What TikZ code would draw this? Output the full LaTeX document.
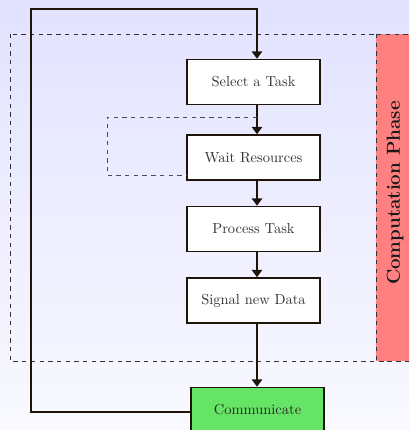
\documentclass[tikz,border=0pt]{standalone}
\usetikzlibrary{arrows.meta}
\definecolor{bgtop}{RGB}{226,226,255}
\definecolor{bgbottom}{RGB}{249,249,255}
\definecolor{flowline}{RGB}{30,20,10}
\definecolor{phasered}{RGB}{255,128,128}
\definecolor{commgreen}{RGB}{102,228,102}
\begin{document}
\begin{tikzpicture}[x=0.69pt,y=-0.69pt,
  taskbox/.style={draw=flowline, line width=1.1pt, fill=white,
    minimum width=92pt, minimum height=31pt, inner sep=0pt, text=black!80},
  flow/.style={draw=flowline, line width=1.3pt, -{Triangle[length=5pt,width=7pt]}},
  phase/.style={draw=black!80, dashed, line width=0.6pt},
  waitloop/.style={draw=black!70, dashed, line width=0.6pt}]
  % canvas
  \useasboundingbox (0,0) rectangle (409,430);
  \clip (0,0) rectangle (409,430);
  \shade[top color=bgtop, bottom color=bgbottom] (0,0) rectangle (409,430);

  % computation phase frame and its side band
  \draw[phase] (10,34) rectangle (430,361);
  \filldraw[phase, fill=phasered] (376,34) rectangle (430,361);
  \node[rotate=90, font=\fontsize{13}{15}\selectfont\bfseries, text=black!90] (phaselabel) at (395,193) {Computation Phase};

  % flow column
  \coordinate (axis) at (257,0);
  \node[taskbox] (select) at (253.5,82) {Select a Task};
  \node[taskbox] (wait) at (253.5,157.5) {Wait Resources};
  \node[taskbox] (process) at (253.5,229) {Process Task};
  \node[taskbox] (signal) at (253.5,300.5) {Signal new Data};
  \node[taskbox, fill=commgreen, text=black!85] (comm) at (257.5,410) {Communicate};

  % arrows
  \draw[flow] (select.south -| axis) -- (wait.north -| axis);
  \draw[flow] (wait.south -| axis) -- (process.north -| axis);
  \draw[flow] (process.south -| axis) -- (signal.north -| axis);
  \draw[flow] (signal.south -| axis) -- (comm.north -| axis);

  % waiting loop
  \coordinate (waittap) at (257,117);
  \draw[waitloop] (waittap) -- (107,117) -- (107,175) -- (wait.west |- 0,175);

  % back to the start
  \coordinate (loopbl) at (31,412);
  \coordinate (looptl) at (31,9);
  \draw[flow] (comm.west |- loopbl) -- (loopbl) -- (looptl) -- (looptl -| axis) -- (select.north -| axis);
\end{tikzpicture}
\end{document}
